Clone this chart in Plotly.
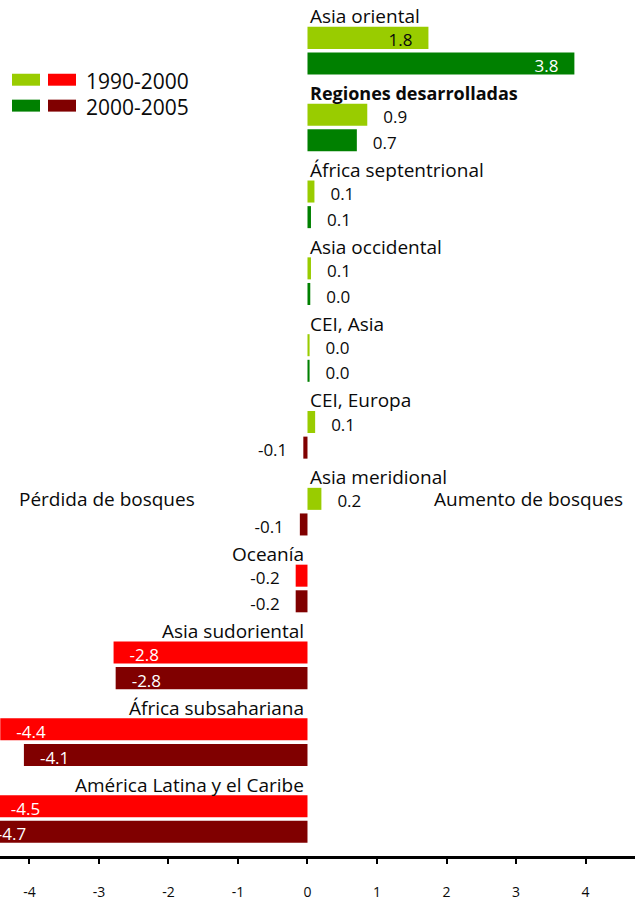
import plotly.graph_objects as go

# ---------------- data ----------------
regions = [
    "Asia oriental", "Regiones desarrolladas", "África septentrional",
    "Asia occidental", "CEI, Asia", "CEI, Europa", "Asia meridional",
    "Oceanía", "Asia sudoriental", "África subsahariana",
    "América Latina y el Caribe",
]
v_1990_2000 = [1.74, 0.86, 0.10, 0.05, 0.03, 0.11, 0.20, -0.17, -2.79, -4.42, -4.5]
v_2000_2005 = [3.84, 0.71, 0.05, 0.04, 0.03, -0.06, -0.11, -0.17, -2.76, -4.08, -4.7]
t_1990_2000 = ["1.8", "0.9", "0.1", "0.1", "0.0", "0.1", "0.2", "-0.2", "-2.8", "-4.4", "-4.5"]
t_2000_2005 = ["3.8", "0.7", "0.1", "0.0", "0.0", "-0.1", "-0.1", "-0.2", "-2.8", "-4.1", "-4.7"]
bold_regions = ["Regiones desarrolladas"]
tick_vals = [-4, -3, -2, -1, 0, 1, 2, 3, 4]
tick_text = ["-4", "-3", "-2", "-1", "0", "1", "2", "3", "4"]
legend_labels = ["1990-2000", "2000-2005"]

# ---------------- style ----------------
FONT = "Open Sans"
C_POS = {"p1": "#99CC00", "p2": "#008000"}
C_NEG = {"p1": "#FF0000", "p2": "#800000"}
TXT = "#0a0a0a"

W, H = 635, 901
PLOT_H = 859
ROW0, ROWH = 12.3, 25.7
LABEL_DY = 0.17  # small vertical nudge (in row units) for value labels

label_rows = [3 * i for i in range(len(regions))]
rows_p1 = [3 * i + 1 for i in range(len(regions))]
rows_p2 = [3 * i + 2 for i in range(len(regions))]

fig = go.Figure()


def bar_colors(vals, key):
    return [C_POS[key] if v >= 0 else C_NEG[key] for v in vals]


def label_props(vals, key):
    pos, col = [], []
    for v in vals:
        inside = abs(v) >= 1.5
        if (v >= 0) != inside:
            pos.append("middle right")
        else:
            pos.append("middle left")
        if inside:
            col.append(TXT if (v >= 0 and key == "p1") else "white")
        else:
            col.append(TXT)
    return pos, col


for vals, rows, texts, key in [
    (v_1990_2000, rows_p1, t_1990_2000, "p1"),
    (v_2000_2005, rows_p2, t_2000_2005, "p2"),
]:
    fig.add_trace(go.Bar(
        x=vals, y=rows, orientation="h", width=0.86,
        marker=dict(color=bar_colors(vals, key), line=dict(width=0)),
        hoverinfo="skip",
    ))
    pos, col = label_props(vals, key)
    fig.add_trace(go.Scatter(
        x=vals, y=[r + LABEL_DY for r in rows], mode="markers+text", text=texts,
        textposition=pos,
        textfont=dict(family=FONT, size=17, color=col),
        marker=dict(size=24, opacity=0),
        hoverinfo="skip", cliponaxis=True,
    ))

annotations = []
for name, row, a, b in zip(regions, label_rows, v_1990_2000, v_2000_2005):
    right_side = (a >= 0) or (b >= 0)
    txt = f"<b>{name}</b>" if name in bold_regions else name
    annotations.append(dict(
        x=0, y=row, xref="x", yref="y", text=txt, showarrow=False,
        xanchor="left" if right_side else "right", yanchor="middle",
        yshift=-4, xshift=1 if right_side else -1,
        font=dict(family=FONT, size=18 if name in bold_regions else 19, color=TXT),
    ))

annotations.append(dict(x=-4.18, y=19, xref="x", yref="y", text="Pérdida de bosques",
                        showarrow=False, xanchor="left", yanchor="middle",
                        font=dict(family=FONT, size=19, color=TXT)))
annotations.append(dict(x=4.568, y=19, xref="x", yref="y", text="Aumento de bosques",
                        showarrow=False, xanchor="right", yanchor="middle",
                        font=dict(family=FONT, size=19, color=TXT)))


def py(px):
    return 1 - px / PLOT_H


def pxx(px):
    return px / W


shapes = []
legend_rows = [(74, 86), (100, 112)]
for (top, bot), key, lab in zip(legend_rows, ["p1", "p2"], legend_labels):
    shapes.append(dict(type="rect", xref="paper", yref="paper",
                       x0=pxx(12), x1=pxx(40), y0=py(bot), y1=py(top),
                       fillcolor=C_POS[key], line=dict(width=0)))
    shapes.append(dict(type="rect", xref="paper", yref="paper",
                       x0=pxx(48), x1=pxx(76), y0=py(bot), y1=py(top),
                       fillcolor=C_NEG[key], line=dict(width=0)))
    annotations.append(dict(x=pxx(84), y=py((top + bot) / 2 + 1), xref="paper", yref="paper",
                            text=lab, showarrow=False, xanchor="left", yanchor="middle",
                            font=dict(family=FONT, size=21, color=TXT)))

fig.update_layout(
    width=W, height=H,
    margin=dict(l=0, r=0, t=0, b=H - PLOT_H),
    paper_bgcolor="white", plot_bgcolor="white",
    showlegend=False, barmode="overlay",
    annotations=annotations, shapes=shapes,
    font=dict(family=FONT, color=TXT),
    xaxis=dict(
        range=[-4.424, 4.712], showgrid=False, zeroline=False,
        showline=True, linecolor="black", linewidth=2.5,
        ticks="outside", ticklen=5, tickwidth=1.5, tickcolor="black",
        tickvals=tick_vals, ticktext=tick_text,
        tickfont=dict(family=FONT, size=14, color=TXT),
        ticklabelstandoff=16, fixedrange=True,
    ),
    yaxis=dict(
        range=[(PLOT_H - ROW0) / ROWH, -ROW0 / ROWH],
        visible=False, fixedrange=True,
    ),
)

fig.write_html(
    "out.html",
    config={"displayModeBar": False},
    post_script="document.body.style.margin='0';document.body.style.overflow='hidden';",
)
